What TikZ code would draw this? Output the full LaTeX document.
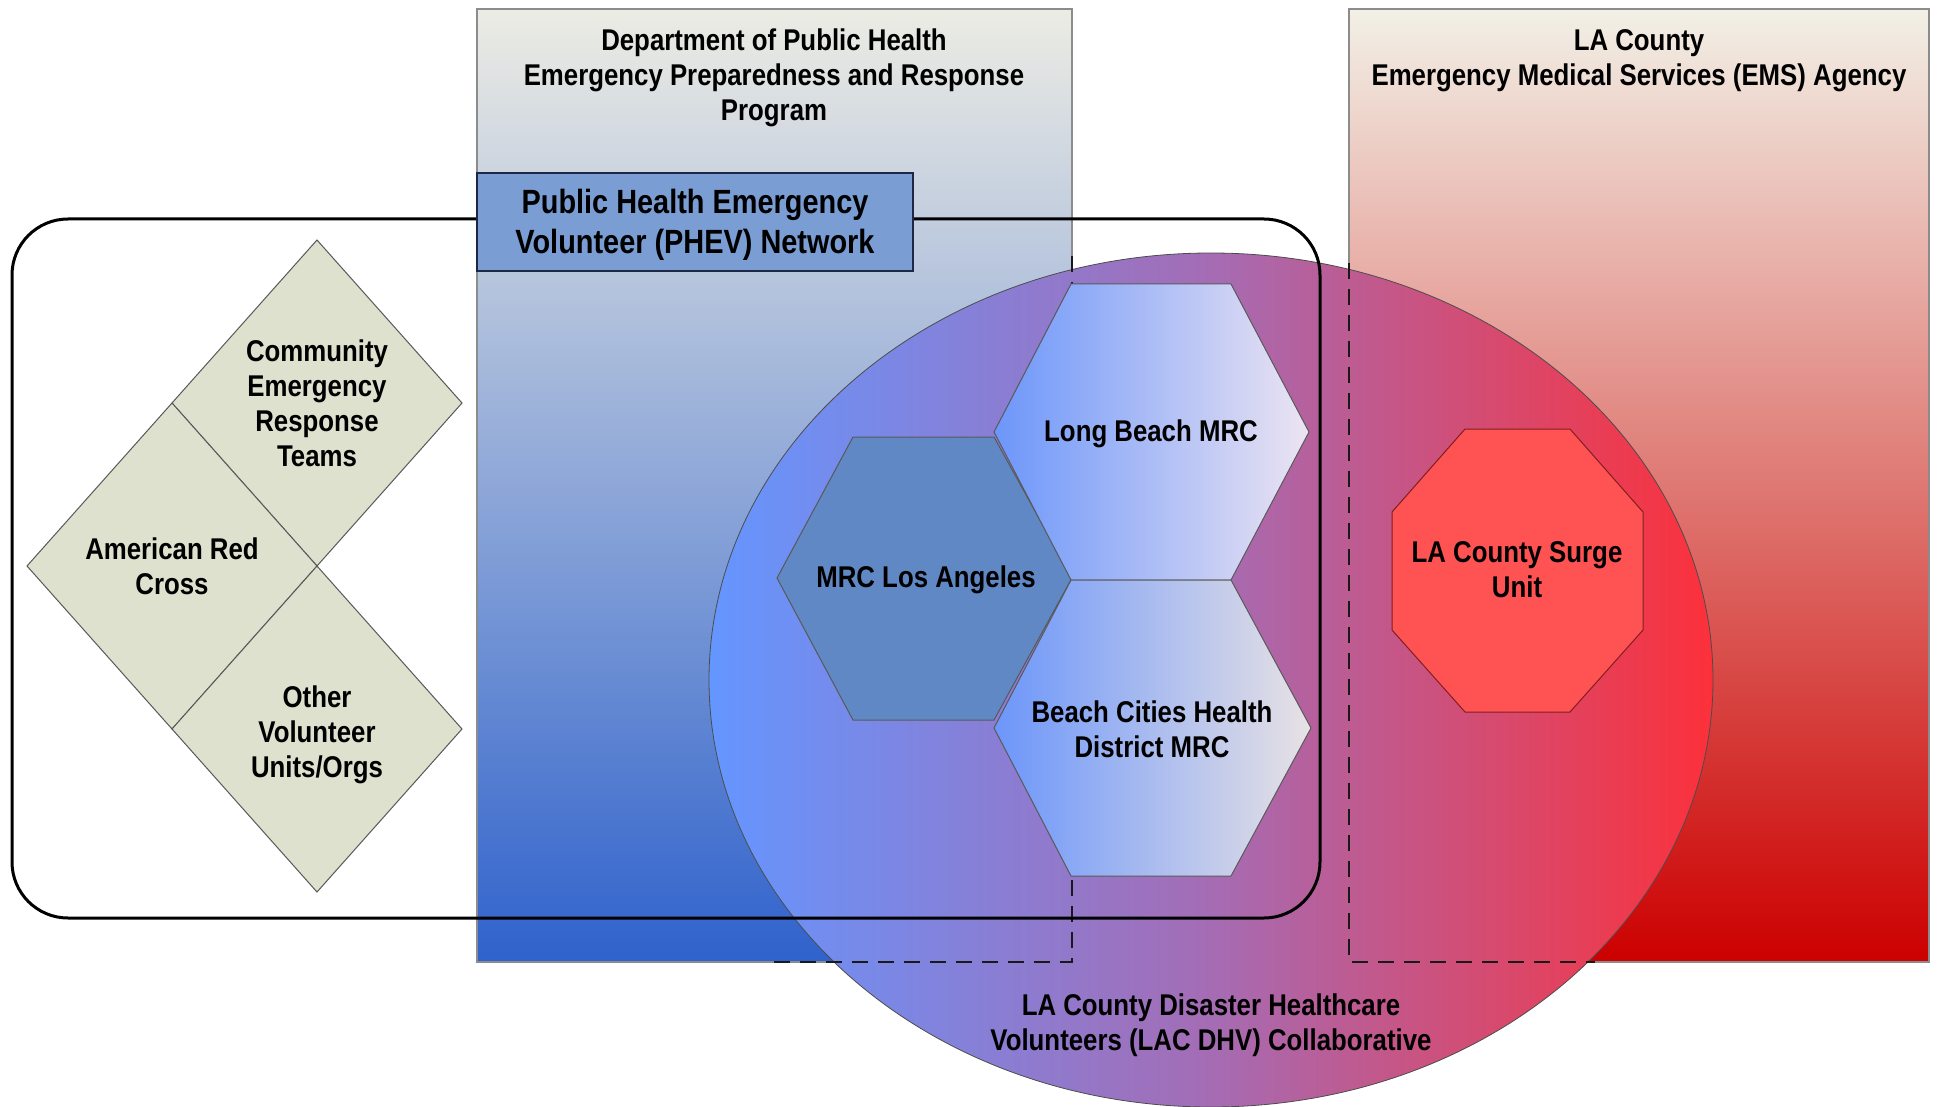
\documentclass[tikz,border=0pt]{standalone}
\usepackage{fontspec}
\newfontfamily\lblfont[FakeStretch=0.86]{Liberation Sans}
\definecolor{dphtop}{RGB}{236,236,228}
\definecolor{dphbot}{RGB}{47,98,204}
\definecolor{emstop}{RGB}{242,240,230}
\definecolor{emsbot}{RGB}{204,0,0}
\definecolor{elleft}{RGB}{100,150,255}
\definecolor{elmid}{RGB}{165,108,180}
\definecolor{elright}{RGB}{252,48,58}
\definecolor{hexleft}{RGB}{108,150,250}
\definecolor{hexright}{RGB}{236,228,242}
\definecolor{mrcla}{RGB}{96,136,196}
\definecolor{octfill}{RGB}{255,82,82}
\definecolor{octline}{RGB}{130,30,30}
\definecolor{diafill}{RGB}{221,225,206}
\definecolor{phevfill}{RGB}{122,157,212}
\definecolor{phevline}{RGB}{30,40,70}
\begin{document}
\begin{tikzpicture}[x=0.5pt,y=-0.5pt,
  txt/.style={font=\lblfont\bfseries\fontsize{15}{17.5}\selectfont, align=center, inner sep=0pt, text=black},
  bigtxt/.style={font=\lblfont\bfseries\fontsize{16.8}{19.8}\selectfont, align=center, inner sep=0pt, text=black},
  dsh/.style={draw=black!90, line width=1.2pt, dash pattern=on 8pt off 5pt},
  recborder/.style={draw=black!45, line width=0.6pt},
  hexa/.style={draw=black!65, line width=0.5pt},
  dia/.style={fill=diafill, draw=black!65, line width=0.5pt},
]
\useasboundingbox (0,0) rectangle (1939,1107);
\fill[white] (0,0) rectangle (1939,1107);

% agency rectangles
\path[top color=dphtop, bottom color=dphbot, recborder] (477,9) rectangle (1072,962);
\path[top color=emstop, bottom color=emsbot, recborder] (1349,9) rectangle (1929,962);

% LAC DHV ellipse
\path[left color=elleft, right color=elright, middle color=elmid, draw=black!70, line width=0.4pt]
  (1211,680) ellipse [x radius=251pt, y radius=213.5pt];

% agency borders inside the collaborative
\draw[dsh] (1072,256) -- (1072,962) -- (767,962);
\draw[dsh] (1349,263) -- (1349,962) -- (1595,962);

% hexagons
\path[hexa, fill=mrcla] (777,578) -- (853,437) -- (994,437) -- (1072,578) -- (994,720) -- (853,720) -- cycle;
\path[hexa, left color=hexleft, right color=hexright] (994,432) -- (1071,284) -- (1231,284) -- (1309,432) -- (1231,580) -- (1071,580) -- cycle;
\path[hexa, left color=hexleft, right color={rgb,255:red,232;green,226;blue,228}] (994,728) -- (1071,580) -- (1231,580) -- (1311,728) -- (1231,876) -- (1071,876) -- cycle;

% octagon
\path[fill=octfill, draw=octline, line width=0.5pt] (1465,429) -- (1570,429) -- (1643,512) -- (1643,630) -- (1570,712) -- (1465,712) -- (1392,630) -- (1392,512) -- cycle;

% diamonds
\path[dia] (317,240) -- (462,403) -- (317,566) -- (172,403) -- cycle;
\path[dia] (172,403) -- (317,566) -- (172,729) -- (27,566) -- cycle;
\path[dia] (317,566) -- (462,729) -- (317,892) -- (172,729) -- cycle;

% PHEV network boundary
\draw[black, line width=1.5pt, rounded corners=28pt] (12,219) rectangle (1320,918);
\node[bigtxt, fill=phevfill, draw=phevline, line width=1pt, minimum width=218pt, minimum height=49pt] (phev) at (695,222) {};
\node[bigtxt] (phevtxt) at (695,225) {Public Health Emergency\\Volunteer (PHEV) Network};

% texts
\node[txt] (dph) at (774,78) {Department of Public Health\\Emergency Preparedness and Response\\Program};
\node[txt] (ems) at (1639,61) {LA County\\Emergency Medical Services (EMS) Agency};
\node[txt] (cert) at (317,403) {Community\\Emergency\\Response\\Teams};
\node[txt] (arc) at (172,566) {American Red\\Cross};
\node[txt] (other) at (317,735) {Other\\Volunteer\\Units/Orgs};
\node[txt] (mrcla) at (926,580) {MRC Los Angeles};
\node[txt] (lb) at (1151,434) {Long Beach MRC};
\node[txt] (bc) at (1152,729) {Beach Cities Health\\District MRC};
\node[txt] (surge) at (1517,570) {LA County Surge\\Unit};
\node[txt] (dhv) at (1211,1025) {LA County Disaster Healthcare\\Volunteers (LAC DHV) Collaborative};
\end{tikzpicture}
\end{document}
